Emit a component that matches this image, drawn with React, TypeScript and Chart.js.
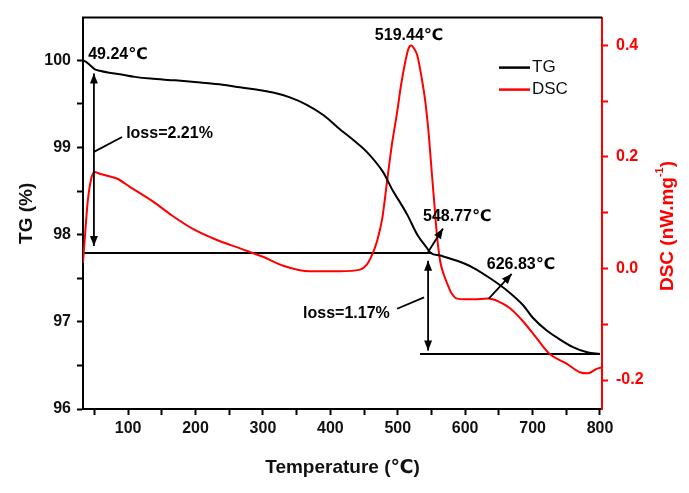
import React, { useEffect, useRef } from "react";
import { Chart, registerables } from "chart.js";

Chart.register(...registerables);

// ---- data ----
const tgTemp = [33, 38, 44, 50, 58, 70, 88, 110, 133, 170, 207, 240, 266, 290, 315, 340, 365, 390, 414, 435, 454, 478, 493, 505, 514, 529, 543, 549, 563, 588, 612, 637, 662, 686, 700, 721, 736, 760, 781, 800];
const tgValues = [100.0, 99.98, 99.94, 99.9, 99.88, 99.86, 99.84, 99.81, 99.79, 99.77, 99.745, 99.72, 99.69, 99.665, 99.63, 99.575, 99.49, 99.37, 99.21, 99.08, 98.95, 98.72, 98.5, 98.35, 98.23, 98.0, 97.85, 97.79, 97.76, 97.7, 97.62, 97.5, 97.36, 97.19, 97.05, 96.9, 96.82, 96.71, 96.65, 96.63];

const dscTemp = [33, 36, 40, 45, 50, 58, 70, 84, 103, 137, 165, 196, 230, 266, 300, 330, 370, 414, 444, 454, 462, 469, 477, 484, 491, 499, 505, 511, 516, 520, 524, 529, 535, 541, 546, 550, 554, 558, 563, 568, 574, 580, 588, 600, 612, 634, 649, 666, 686, 706, 726, 751, 770, 782, 795, 803];
const dscValues = [0.01, 0.06, 0.12, 0.16, 0.173, 0.17, 0.166, 0.161, 0.146, 0.12, 0.095, 0.071, 0.052, 0.036, 0.021, 0.005, -0.005, -0.005, -0.002, 0.007, 0.025, 0.048, 0.09, 0.155, 0.22, 0.28, 0.33, 0.37, 0.395, 0.4, 0.395, 0.382, 0.345, 0.298, 0.24, 0.179, 0.12, 0.061, 0.0125, -0.01, -0.029, -0.045, -0.054, -0.055, -0.055, -0.054, -0.059, -0.071, -0.095, -0.125, -0.154, -0.171, -0.186, -0.188, -0.18, -0.177];

// horizontal reference lines (TG levels)
const baseUpperTemp = [33, 551];
const baseUpperTG = [97.79, 97.79];
const baseLowerTemp = [533, 800];
const baseLowerTG = [96.63, 96.63];

// tick values
const xTickValues = [50, 100, 150, 200, 250, 300, 350, 400, 450, 500, 550, 600, 650, 700, 750, 800];
const yTickValues = [96, 96.5, 97, 97.5, 98, 98.5, 99, 99.5, 100];
const y2TickValues = [-0.2, -0.1, 0, 0.1, 0.2, 0.3, 0.4];

// annotations in data coordinates (temperature, TG)
const annotationTexts = [
  { text: "49.24℃", t: 40.7, tg: 100.07 },
  { text: "loss=2.21%", t: 97, tg: 99.16 },
  { text: "519.44℃", t: 466, tg: 100.285 },
  { text: "548.77℃", t: 537.5, tg: 98.21 },
  { text: "loss=1.17%", t: 359.5, tg: 97.09 },
  { text: "626.83℃", t: 632, tg: 97.66 },
];
// [t1, tg1, t2, tg2, headAtStart, headAtEnd]
const annotationArrows = [
  [49.2, 97.87, 49.2, 99.85, true, true],
  [545, 97.7, 545, 96.67, true, true],
  [545, 97.8, 567, 98.07, false, true],
  [635, 97.265, 669, 97.55, false, true],
  [49.2, 98.95, 91, 99.12, false, false],
  [499, 97.15, 539, 97.28, false, false],
];

const FONT = "'Liberation Sans', Arial, 'DejaVu Sans', sans-serif";

function arrowHead(ctx: CanvasRenderingContext2D, x1: number, y1: number, x2: number, y2: number) {
  const a = Math.atan2(y2 - y1, x2 - x1);
  const len = 10, hw = 4;
  ctx.beginPath();
  ctx.moveTo(x2, y2);
  ctx.lineTo(x2 - len * Math.cos(a) + hw * Math.sin(a), y2 - len * Math.sin(a) - hw * Math.cos(a));
  ctx.lineTo(x2 - len * Math.cos(a) - hw * Math.sin(a), y2 - len * Math.sin(a) + hw * Math.cos(a));
  ctx.closePath();
  ctx.fill();
}

const overlayPlugin = {
  id: "overlay",
  afterDraw(chart: any) {
    const { ctx, chartArea, scales } = chart;
    const xs = scales.x, ys = scales.y;
    ctx.save();
    // top frame
    ctx.strokeStyle = "#000";
    ctx.lineWidth = 2;
    ctx.beginPath();
    ctx.moveTo(chartArea.left - 1, chartArea.top);
    ctx.lineTo(chartArea.right, chartArea.top);
    ctx.stroke();

    // arrows and leader lines
    ctx.fillStyle = "#000";
    ctx.lineWidth = 1.8;
    for (const [t1, v1, t2, v2, h1, h2] of annotationArrows as any[]) {
      const x1 = xs.getPixelForValue(t1), y1 = ys.getPixelForValue(v1);
      const x2 = xs.getPixelForValue(t2), y2 = ys.getPixelForValue(v2);
      ctx.beginPath();
      ctx.moveTo(x1, y1);
      ctx.lineTo(x2, y2);
      ctx.stroke();
      if (h2) arrowHead(ctx, x1, y1, x2, y2);
      if (h1) arrowHead(ctx, x2, y2, x1, y1);
    }

    // texts
    ctx.font = `bold 16px ${FONT}`;
    ctx.textAlign = "left";
    ctx.textBaseline = "middle";
    for (const a of annotationTexts) {
      ctx.fillText(a.text, xs.getPixelForValue(a.t), ys.getPixelForValue(a.tg));
    }

    // legend
    const ds = chart.data.datasets;
    const lx = chartArea.right - 103;
    [0, 1].forEach((i) => {
      const ly = chartArea.top + 50 + i * 22;
      ctx.strokeStyle = ds[i].borderColor;
      ctx.lineWidth = 2.5;
      ctx.beginPath();
      ctx.moveTo(lx, ly);
      ctx.lineTo(lx + 31, ly);
      ctx.stroke();
      ctx.fillStyle = "#111";
      ctx.font = `17px ${FONT}`;
      ctx.fillText(ds[i].label, lx + 33, ly);
    });

    // right axis title with superscript, reading bottom-to-top
    const main1 = "DSC (nW.mg";
    const sup = "-1";
    const main2 = ")";
    ctx.fillStyle = "#ff0000";
    ctx.font = `bold 19px ${FONT}`;
    const w1 = ctx.measureText(main1).width;
    const w3 = ctx.measureText(main2).width;
    ctx.font = `bold 11px ${FONT}`;
    const w2 = ctx.measureText(sup).width;
    const total = w1 + w2 + w3;
    ctx.translate(668, 226);
    ctx.rotate(-Math.PI / 2);
    ctx.textAlign = "left";
    ctx.textBaseline = "middle";
    ctx.font = `bold 19px ${FONT}`;
    ctx.fillText(main1, -total / 2, 0);
    ctx.font = `bold 11px ${FONT}`;
    ctx.fillText(sup, -total / 2 + w1, -8);
    ctx.font = `bold 19px ${FONT}`;
    ctx.fillText(main2, -total / 2 + w1 + w2, 0);
    ctx.restore();
  },
};

function pts(xs: number[], ys: number[]) {
  return xs.map((x, i) => ({ x, y: ys[i] }));
}

export default function App() {
  const ref = useRef<HTMLCanvasElement>(null);
  useEffect(() => {
    if (!ref.current) return;
    const chart = new Chart(ref.current, {
      type: "line",
      data: {
        datasets: [
          { label: "TG", data: pts(tgTemp, tgValues), borderColor: "#000000", borderWidth: 2, pointRadius: 0, yAxisID: "y", cubicInterpolationMode: "monotone" },
          { label: "DSC", data: pts(dscTemp, dscValues), borderColor: "#ff0000", borderWidth: 2, pointRadius: 0, yAxisID: "y2", cubicInterpolationMode: "monotone" },
          { label: "base1", data: pts(baseUpperTemp, baseUpperTG), borderColor: "#000000", borderWidth: 2, pointRadius: 0, yAxisID: "y" },
          { label: "base2", data: pts(baseLowerTemp, baseLowerTG), borderColor: "#000000", borderWidth: 2, pointRadius: 0, yAxisID: "y" },
        ],
      } as any,
      options: {
        animation: false,
        responsive: false,
        devicePixelRatio: 1,
        layout: { padding: { top: 15, left: 0, right: 0, bottom: 0 } },
        plugins: { legend: { display: false }, tooltip: { enabled: false } },
        scales: {
          x: {
            type: "linear",
            min: 33,
            max: 803,
            afterBuildTicks: (axis: any) => { axis.ticks = xTickValues.map((v) => ({ value: v })); },
            afterFit: (axis: any) => { axis.height = 84; },
            ticks: {
              callback: (v: any) => (v % 100 === 0 ? String(v) : ""),
              font: { size: 16, weight: "bold", family: FONT },
              color: "#111",
              padding: 4,
              maxRotation: 0,
              autoSkip: false,
            },
            grid: { drawOnChartArea: false, drawTicks: true, tickLength: 6, tickColor: "#000", tickWidth: 2 },
            border: { color: "#000", width: 2 },
            title: { display: true, text: "Temperature (℃)", font: { size: 19, weight: "bold", family: FONT }, color: "#111", padding: { top: 0, bottom: 14 } },
          },
          y: {
            type: "linear",
            position: "left",
            min: 96,
            max: 100.49,
            afterBuildTicks: (axis: any) => { axis.ticks = yTickValues.map((v) => ({ value: v })); },
            afterFit: (axis: any) => { axis.width = 83; },
            ticks: {
              callback: (v: any) => (Number.isInteger(v) ? String(v) : ""),
              font: { size: 16, weight: "bold", family: FONT },
              color: "#111",
              padding: 6,
              autoSkip: false,
            },
            grid: { drawOnChartArea: false, drawTicks: true, tickLength: 6, tickColor: "#000", tickWidth: 2 },
            border: { color: "#000", width: 2 },
            title: { display: true, text: "TG (%)", font: { size: 19, weight: "bold", family: FONT }, color: "#111", padding: { top: 15, bottom: 0 } },
          },
          y2: {
            type: "linear",
            position: "right",
            min: -0.252,
            max: 0.45,
            afterBuildTicks: (axis: any) => { axis.ticks = y2TickValues.map((v) => ({ value: v })); },
            afterFit: (axis: any) => { axis.width = 87; },
            ticks: {
              callback: (v: any) => (Math.abs(Math.round(v * 10)) % 2 === 0 ? (Math.abs(v) < 1e-9 ? "0.0" : Number(v).toFixed(1)) : ""),
              font: { size: 16, weight: "bold", family: FONT },
              color: "#ff0000",
              padding: 8,
              autoSkip: false,
            },
            grid: { drawOnChartArea: false, drawTicks: true, tickLength: 6, tickColor: "#ff0000", tickWidth: 2 },
            border: { color: "#ff0000", width: 2 },
            title: { display: false },
          },
        },
      } as any,
      plugins: [overlayPlugin],
    });
    return () => chart.destroy();
  }, []);
  return (
    <div style={{ position: "fixed", left: 0, top: 0, width: 689, height: 493, background: "#fff" }}>
      <canvas ref={ref} width={689} height={493} style={{ display: "block", width: 689, height: 493 }} />
    </div>
  );
}
